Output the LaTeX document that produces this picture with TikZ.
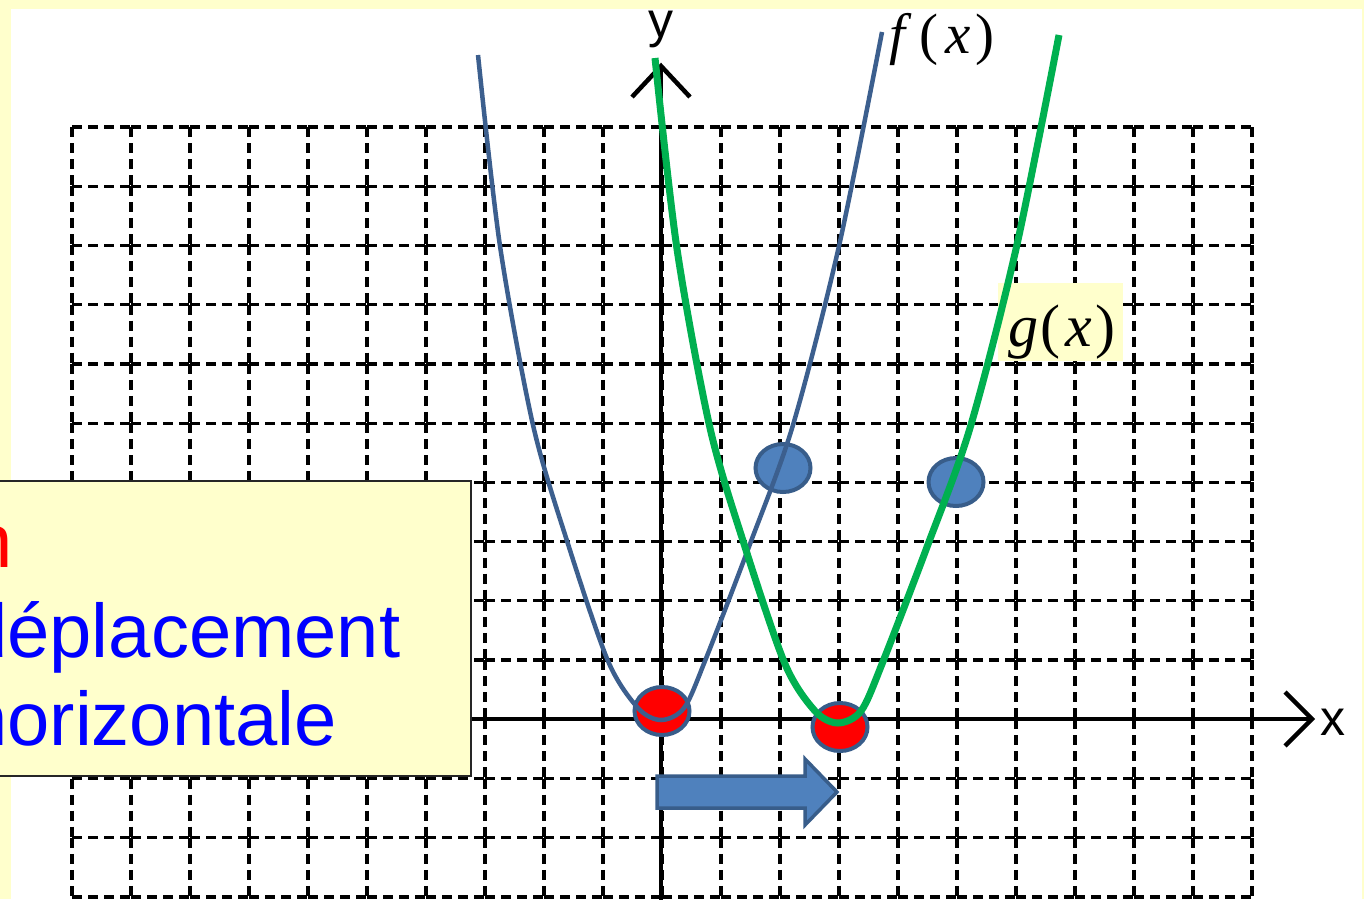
\documentclass[tikz,border=0pt]{standalone}
\usepackage{fontspec}
\setmainfont{Liberation Serif}
\newfontfamily\arialf{Liberation Sans}
\usetikzlibrary{shapes.geometric}
\definecolor{paleyellow}{HTML}{FFFFCC}
\definecolor{curveblue}{HTML}{3C5F8E}
\definecolor{dotblue}{HTML}{4F81BD}
\definecolor{rimblue}{HTML}{385D8A}
\definecolor{greencurve}{HTML}{00B050}
\definecolor{textblue}{HTML}{0000FF}
\tikzset{
  griddash/.style={line width=3.2bp, dash pattern=on 10bp off 6bp},
  axisline/.style={line width=4.5bp},
  chevron/.style={line width=4.5bp, line join=miter},
  fcurve/.style={curveblue, line width=4.5bp},
  gcurve/.style={greencurve, line width=7bp},
  reddot/.style={ellipse, draw=rimblue, line width=4bp, fill=red,
    minimum width=55bp, minimum height=48bp, inner sep=0pt},
  bluedot/.style={reddot, fill=dotblue},
  movearrow/.style={draw=rimblue, fill=dotblue, line width=3.5bp, line join=miter},
  labelbox/.style={fill=paleyellow},
  infobox/.style={draw=black!85, fill=paleyellow, line width=2.5bp},
  infotext/.style={anchor=base west, inner sep=0pt,
    font=\arialf\fontsize{76bp}{89bp}\selectfont},
  axislabel/.style={inner sep=0pt, text height=0.55em, text depth=0.2em,
    font=\arialf\fontsize{50bp}{50bp}\selectfont},
  funclabel/.style={anchor=base west, inner sep=0pt}
}
\begin{document}
\begin{tikzpicture}[x=1bp,y=-1bp]
\useasboundingbox (0,0) rectangle (1364,899);
\clip (0,0) rectangle (1364,899);
% slide frame
\fill[paleyellow] (0,0) rectangle (1364,899);
\fill[white] (11,9) rectangle (1362,905);
% grid: each cell edge dashed from its corner
\foreach \i in {0,...,20} {
  \foreach \j in {0,...,12} {
    \draw[griddash] ({72+59*\i},{127+59.23*\j}) -- ++(0,59.23);
  }
}
\foreach \i in {0,...,19} {
  \foreach \j in {0,...,13} {
    \draw[griddash] ({72+59*\i},{127+59.23*\j}) -- ++(59,0);
  }
}
% axes
\coordinate (xstart) at (0,719);
\coordinate (xtip) at (1312,719);
\coordinate (ybottom) at (661,905);
\coordinate (ytip) at (661,66);
\draw[axisline] (xstart) -- (xtip);
\draw[chevron] (1285,692) -- (xtip) -- (1285,746);
\draw[axisline] (ybottom) -- (ytip);
\draw[chevron] (632,97) -- (ytip) -- (690,97);
\node[axislabel, anchor=base] (ylab) at (661,37) {y};
\node[axislabel, anchor=base west] (xlab) at (1320,735) {x};
% g(x) label background
\fill[labelbox] (998,283) rectangle (1123,361);
% points
\node[reddot] (v1) at (662,711) {};
\node[reddot] (v2) at (840,727) {};
\node[bluedot] (p1) at (783,468) {};
\node[bluedot] (p2) at (956,482) {};
% curves
\draw[fcurve] plot[smooth] coordinates {(478,55) (500,246) (533,425) (568,544) (608,661) (638,708) (661,720) (684,708) (705,661) (750,544) (793,425) (839,246) (882,32)};
\draw[gcurve, shift={(177,3)}] plot[smooth] coordinates {(478,55) (500,246) (533,425) (568,544) (608,661) (638,708) (661,720) (684,708) (705,661) (750,544) (793,425) (839,246) (882,32)};
% function labels
\node[funclabel, font=\fontsize{57bp}{57bp}\selectfont] (flab) at (889,53)
  {\itshape f\hspace{14bp}\upshape(\hspace{7bp}\itshape x\hspace{5bp}\upshape)};
\node[funclabel, font=\fontsize{60bp}{60bp}\selectfont] (glab) at (1008,346)
  {\itshape g\hspace{2bp}\upshape(\hspace{5bp}\itshape x\hspace{4bp}\upshape)};
% shift arrow
\draw[movearrow] (657,776) -- (805,776) -- (805,759) -- (837,792) -- (805,825) -- (805,808) -- (657,808) -- cycle;
% info box
\draw[infobox] (-10,481) rectangle (471,776);
\node[infotext, text=red] (line1) at (-30,567) {n};
\node[infotext, text=textblue] (line2) at (-35,657) {déplacement};
\node[infotext, text=textblue] (line3) at (-35,745) {horizontale};
\end{tikzpicture}
\end{document}
